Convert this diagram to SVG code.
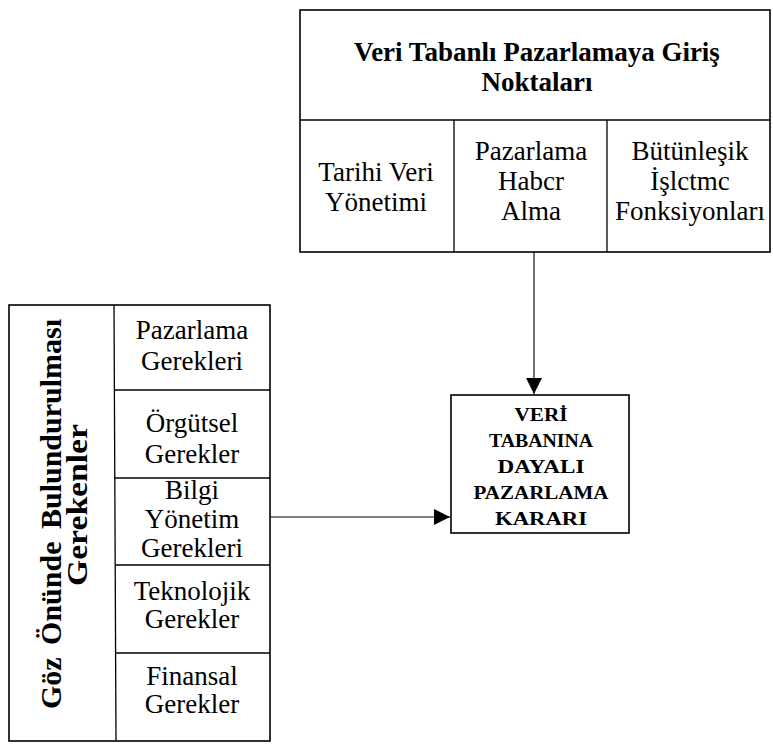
<svg xmlns="http://www.w3.org/2000/svg" width="773" height="744" viewBox="0 0 773 744">
  <style>
    .box { fill: #ffffff; stroke: #000000; stroke-width: 1.6; }
    .rule { fill: none; stroke: #000000; stroke-width: 1.3; }
    .t { font-family: "Liberation Serif", "Times New Roman", serif; fill: #000000; text-anchor: middle; }
    .cell { font-size: 27px; }
    .head { font-size: 27px; font-weight: bold; }
    .side { font-size: 30px; font-weight: bold; }
    .dec { font-size: 18px; font-weight: bold; }
    .link { fill: none; stroke: #000000; stroke-width: 1.1; }
  </style>
  <defs>
    <marker id="tri" viewBox="0 0 16 16" refX="16" refY="8" markerWidth="16" markerHeight="16" markerUnits="userSpaceOnUse" orient="auto">
      <path d="M0,0 L16,8 L0,16 Z" fill="#000000"/>
    </marker>
  </defs>
  <rect width="773" height="744" fill="#ffffff"/>

  <!-- entry points table -->
  <g id="entry-points">
    <rect class="box" x="300" y="10" width="470" height="242"/>
    <line class="rule" x1="300" y1="120" x2="770" y2="120"/>
    <line class="rule" x1="454" y1="120" x2="454" y2="252"/>
    <line class="rule" x1="607" y1="120" x2="607" y2="252"/>
    <text class="t head" x="537" y="61">Veri Tabanlı Pazarlamaya Giriş</text>
    <text class="t head" x="537" y="91">Noktaları</text>
    <text class="t cell" x="376" y="181">Tarihi Veri</text>
    <text class="t cell" x="376" y="211">Yönetimi</text>
    <text class="t cell" x="531" y="160">Pazarlama</text>
    <text class="t cell" x="531" y="190">Habcr</text>
    <text class="t cell" x="531" y="220">Alma</text>
    <text class="t cell" x="690" y="160">Bütünleşik</text>
    <text class="t cell" x="690" y="190">İşlctmc</text>
    <text class="t cell" x="690" y="220">Fonksiyonları</text>
  </g>

  <!-- requirements table -->
  <g id="requirements">
    <rect class="box" x="9" y="305" width="261" height="436"/>
    <line class="rule" x1="114" y1="305" x2="116" y2="741"/>
    <line class="rule" x1="114" y1="390" x2="270" y2="390"/>
    <line class="rule" x1="114" y1="478" x2="270" y2="478"/>
    <line class="rule" x1="115" y1="565" x2="270" y2="565"/>
    <line class="rule" x1="115" y1="653" x2="270" y2="653"/>
    <text class="t side" transform="translate(61,514) rotate(-90)" word-spacing="5">Göz Önünde Bulundurulması</text>
    <text class="t side" transform="translate(87,505) rotate(-90)" textLength="162" lengthAdjust="spacingAndGlyphs">Gerekenler</text>
    <text class="t cell" x="192" y="339">Pazarlama</text>
    <text class="t cell" x="192" y="370">Gerekleri</text>
    <text class="t cell" x="192" y="432">Örgütsel</text>
    <text class="t cell" x="192" y="463">Gerekler</text>
    <text class="t cell" x="192" y="499">Bilgi</text>
    <text class="t cell" x="192" y="528">Yönetim</text>
    <text class="t cell" x="192" y="557">Gerekleri</text>
    <text class="t cell" x="192" y="600">Teknolojik</text>
    <text class="t cell" x="192" y="628">Gerekler</text>
    <text class="t cell" x="192" y="685">Finansal</text>
    <text class="t cell" x="192" y="713">Gerekler</text>
  </g>

  <!-- decision box -->
  <g id="decision">
    <rect class="box" x="451" y="395" width="178" height="138"/>
    <text class="t dec" x="541" y="421" textLength="53" lengthAdjust="spacingAndGlyphs">VERİ</text>
    <text class="t dec" x="541" y="447" textLength="104" lengthAdjust="spacingAndGlyphs">TABANINA</text>
    <text class="t dec" x="541" y="473" textLength="87" lengthAdjust="spacingAndGlyphs">DAYALI</text>
    <text class="t dec" x="541" y="499" textLength="135" lengthAdjust="spacingAndGlyphs">PAZARLAMA</text>
    <text class="t dec" x="541" y="525" textLength="92" lengthAdjust="spacingAndGlyphs">KARARI</text>
  </g>

  <!-- connectors -->
  <g id="connectors">
    <line class="link" x1="534" y1="252" x2="534" y2="394" marker-end="url(#tri)"/>
    <line class="link" x1="270" y1="517" x2="450" y2="517" marker-end="url(#tri)"/>
  </g>
</svg>
